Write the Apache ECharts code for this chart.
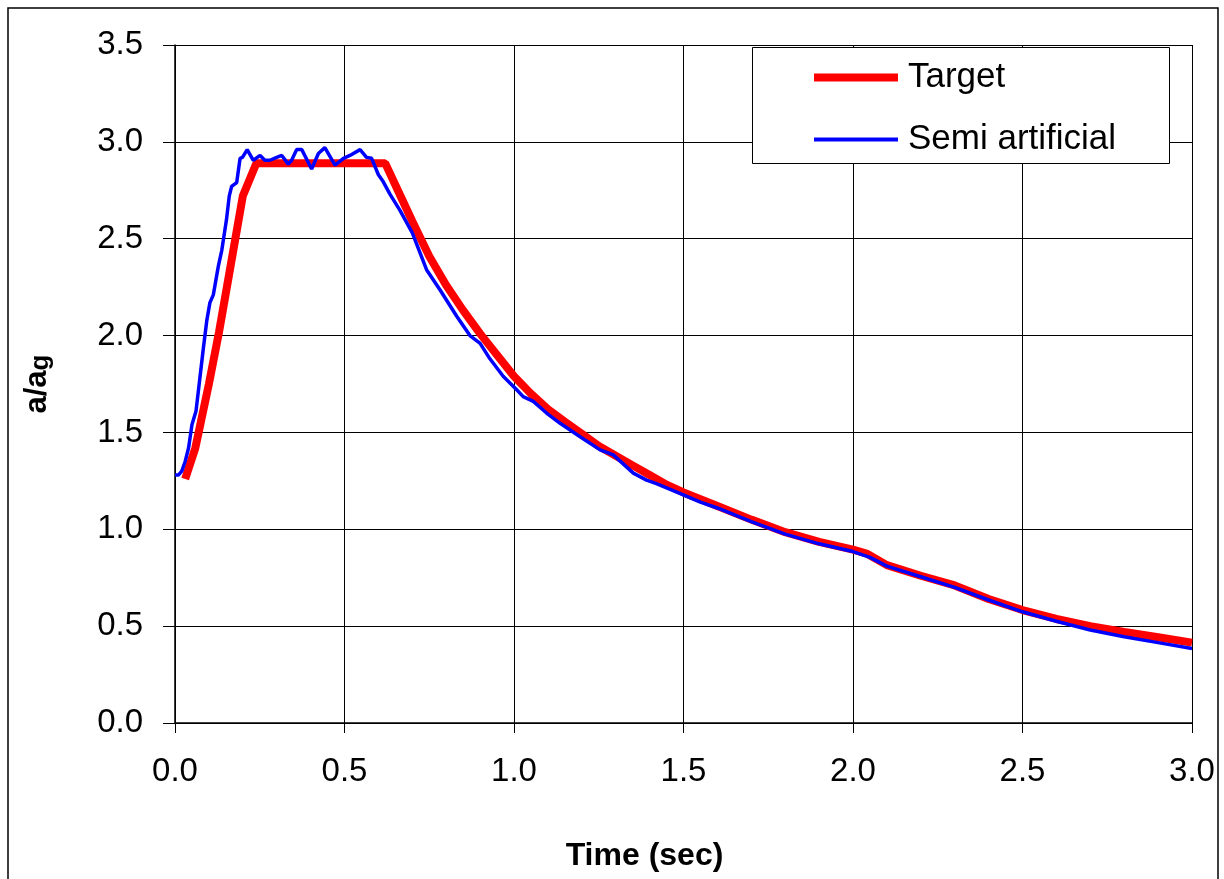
<!DOCTYPE html>
<html>
<head>
<meta charset="utf-8">
<script src="https://cdn.jsdelivr.net/npm/echarts@6/dist/echarts.min.js"></script>
<style>
html,body{margin:0;padding:0;background:#fff;}
#chart{width:1224px;height:879px;}
</style>
</head>
<body>
<div id="chart"></div>
<script>
const targetT = [0.03,0.06,0.10,0.13,0.17,0.20,0.24,0.62,0.66,0.70,0.75,0.80,0.85,0.90,0.95,1.00,1.05,1.10,1.15,1.20,1.25,1.30,1.35,1.40,1.45,1.50,1.60,1.70,1.80,1.90,2.00,2.04,2.10,2.20,2.30,2.40,2.50,2.60,2.70,2.80,2.90,3.00];
const targetA = [1.26,1.42,1.75,2.02,2.42,2.72,2.89,2.89,2.74,2.59,2.41,2.26,2.13,2.01,1.90,1.79,1.70,1.62,1.555,1.493,1.43,1.38,1.33,1.28,1.23,1.19,1.12,1.05,0.985,0.935,0.895,0.875,0.815,0.76,0.71,0.64,0.583,0.537,0.50,0.47,0.443,0.415];

const semiT = [0.00,0.01,0.02,0.03,0.04,0.05,0.062,0.074,0.084,0.094,0.103,0.113,0.128,0.138,0.152,0.160,0.167,0.182,0.192,0.199,0.213,0.231,0.251,0.265,0.280,0.300,0.315,0.334,0.344,0.359,0.374,0.403,0.423,0.442,0.472,0.497,0.516,0.546,0.565,0.580,0.600,0.614,0.634,0.664,0.700,0.742,0.782,0.831,0.870,0.900,0.929,0.968,1.008,1.027,1.057,1.096,1.136,1.195,1.254,1.293,1.352,1.391,1.420,1.489,1.55,1.60,1.70,1.80,1.90,2.00,2.05,2.10,2.20,2.30,2.40,2.50,2.60,2.70,2.80,2.90,3.00];
const semiA = [1.28,1.28,1.30,1.35,1.42,1.54,1.61,1.79,1.94,2.08,2.17,2.21,2.36,2.44,2.60,2.72,2.77,2.79,2.915,2.92,2.96,2.905,2.93,2.905,2.905,2.92,2.93,2.885,2.905,2.96,2.96,2.86,2.94,2.97,2.88,2.915,2.93,2.96,2.92,2.915,2.83,2.795,2.73,2.645,2.53,2.34,2.235,2.10,2.00,1.96,1.88,1.79,1.72,1.685,1.66,1.60,1.547,1.478,1.41,1.384,1.29,1.254,1.236,1.185,1.14,1.11,1.04,0.975,0.925,0.885,0.855,0.81,0.755,0.70,0.635,0.574,0.525,0.48,0.445,0.415,0.385];

const seriesNames = ['Target','Semi artificial'];
const xTitle = 'Time (sec)';

const zip = (a,b) => a.map((v,i) => [v,b[i]]);
const FONT = 'Liberation Sans, Arial, sans-serif';

const chart = echarts.init(document.getElementById('chart'), null, {renderer:'canvas'});
chart.setOption({
  animation:false,
  backgroundColor:'#fff',
  graphic:[
    {type:'rect', shape:{x:8,y:8,width:1210,height:890}, style:{fill:'none',stroke:'#000',lineWidth:1.5}, z:0},
    {type:'rect', shape:{x:752.5,y:47.5,width:417,height:116}, style:{fill:'#fff',stroke:'#000',lineWidth:1}, z:50}
  ],
  grid:{left:175,right:32,top:45,bottom:156,containLabel:false},
  legend:[
    {data:[seriesNames[0]], left:814, top:60, padding:0, itemWidth:84, itemHeight:8, icon:'rect', itemGap:0, z:60,
     textStyle:{fontFamily:FONT,fontSize:35,color:'#000',padding:[0,0,0,5]}},
    {data:[seriesNames[1]], left:814, top:122, padding:0, itemWidth:84, itemHeight:4, icon:'rect', itemGap:0, z:60,
     textStyle:{fontFamily:FONT,fontSize:35,color:'#000',padding:[0,0,0,5]}}
  ],
  xAxis:{
    type:'value', min:0, max:3, interval:0.5,
    name:xTitle, nameLocation:'middle', nameGap:117,
    nameTextStyle:{fontFamily:FONT,fontSize:32,fontWeight:'bold',color:'#000',padding:[0,78,0,0]},
    axisLine:{lineStyle:{color:'#000',width:1.5}},
    axisTick:{show:true,length:10,lineStyle:{color:'#000',width:1}},
    axisLabel:{fontFamily:FONT,fontSize:33,color:'#000',margin:32,formatter:v=>v.toFixed(1)},
    splitLine:{show:true,lineStyle:{color:'#000',width:1}}
  },
  yAxis:{
    type:'value', min:0, max:3.5, interval:0.5,
    name:'{n|a/a}{s|g}', nameLocation:'middle', nameGap:121, nameRotate:90,
    nameTextStyle:{rich:{
      n:{fontFamily:FONT,fontSize:31,fontWeight:'bold',color:'#000'},
      s:{fontFamily:FONT,fontSize:26,fontWeight:'bold',color:'#000',padding:[8,0,0,0]}
    }},
    axisLine:{show:true,lineStyle:{color:'#000',width:1.5}},
    axisTick:{show:true,length:12,lineStyle:{color:'#000',width:1}},
    axisLabel:{fontFamily:FONT,fontSize:33,color:'#000',margin:32,formatter:v=>v.toFixed(1)},
    splitLine:{show:true,lineStyle:{color:'#000',width:1}}
  },
  series:[
    {name:seriesNames[0], type:'line', data:zip(targetT,targetA), symbol:'none', color:'#ff0000',
     lineStyle:{width:8,color:'#ff0000'}, z:3},
    {name:seriesNames[1], type:'line', data:zip(semiT,semiA), symbol:'none', color:'#0000ff',
     lineStyle:{width:3.5,color:'#0000ff'}, z:4}
  ]
});
</script>
</body>
</html>
